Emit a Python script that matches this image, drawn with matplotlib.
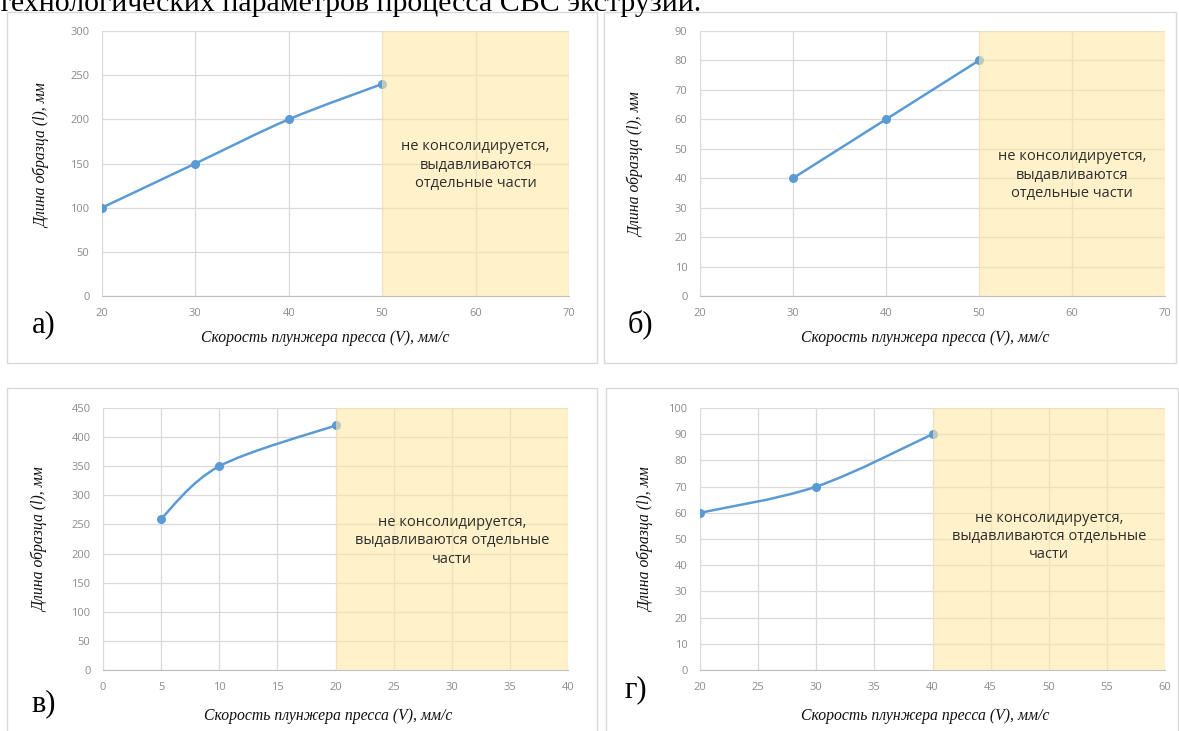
import matplotlib
matplotlib.use("Agg")
import matplotlib.pyplot as plt
import matplotlib.patches as mpatches
from matplotlib.path import Path
import numpy as np

W, H = 1179, 731

# Panel data: plunger speed (mm/s) vs sample length (mm)
speed_a = [20, 30, 40, 50]
length_a = [100, 150, 200, 240]

speed_b = [30, 40, 50]
length_b = [40, 60, 80]

speed_v = [5, 10, 20]
length_v = [260, 350, 420]

speed_g = [20, 30, 40]
length_g = [60, 70, 90]

NOTE_3 = "не консолидируется,\nвыдавливаются\nотдельные части"
NOTE_V = "не консолидируется,\nвыдавливаются отдельные\nчасти"

XLABEL = "Скорость плунжера пресса (V), мм/с"
YLABEL = "Длина образца (l), мм"

LINE_BLUE = "#5B9BD5"
GRID = "#d9d9d9"
TICK_GREY = "#8c8c8c"


def px_rect(x0, y0, x1, y1):
    """Pixel box (top-left origin) -> figure fraction rect."""
    return [x0 / W, 1 - y1 / H, (x1 - x0) / W, (y1 - y0) / H]


def smooth_path(xs, ys):
    """Catmull-Rom curve through the points as cubic Bezier segments."""
    pts = np.column_stack([xs, ys]).astype(float)
    verts = [pts[0]]
    codes = [Path.MOVETO]
    n = len(pts)
    for i in range(n - 1):
        p0 = pts[i - 1] if i > 0 else pts[i]
        p1 = pts[i]
        p2 = pts[i + 1]
        p3 = pts[i + 2] if i + 2 < n else pts[i + 1]
        c1 = p1 + (p2 - p0) / 6.0
        c2 = p2 - (p3 - p1) / 6.0
        verts += [c1, c2, p2]
        codes += [Path.CURVE4] * 3
    return Path(verts, codes)


def draw_panel(fig, rect, xs, ys, xlim, xstep, ylim, ystep, shade, note, note_xy):
    ax = fig.add_axes(rect)
    ax.set_xlim(*xlim)
    ax.set_ylim(*ylim)
    ax.set_xticks(np.arange(xlim[0], xlim[1] + 0.1, xstep))
    ax.set_yticks(np.arange(ylim[0], ylim[1] + 0.1, ystep))
    ax.grid(True, color=GRID, lw=0.9)
    ax.set_axisbelow(True)
    for side in ["top", "right", "left"]:
        ax.spines[side].set_visible(False)
    ax.spines["bottom"].set_color("#bfbfbf")
    ax.tick_params(length=0, labelsize=8, labelcolor=TICK_GREY, pad=9)
    for lab in ax.get_xticklabels() + ax.get_yticklabels():
        lab.set_family("Open Sans")

    ax.add_patch(mpatches.PathPatch(smooth_path(xs, ys), fc="none",
                                    ec=LINE_BLUE, lw=1.8, zorder=2))
    ax.plot(xs, ys, ls="none", marker="o", ms=5.5, color=LINE_BLUE, zorder=3)

    # region where the material is not consolidated
    ax.axvspan(shade[0], shade[1], color="#FFE9A8", alpha=0.6, lw=0, zorder=4)
    ax.text(note_xy[0], note_xy[1], note, ha="center", va="center",
            fontsize=10.5, family="Open Sans", color="#2e2e2e",
            linespacing=1.3, zorder=5)
    return ax


fig = plt.figure(figsize=(W / 100, H / 100), dpi=100)
fig.patch.set_facecolor("white")

# chart frames
for x0, y0, x1, y1 in [(7, 12, 597, 363), (604, 12, 1176, 363),
                       (7, 388, 597, 740), (606, 388, 1178, 740)]:
    r = px_rect(x0, y0, x1, y1)
    fig.add_artist(mpatches.Rectangle((r[0], r[1]), r[2], r[3],
                                      transform=fig.transFigure, fc="none",
                                      ec="#d9d9d9", lw=1.0))

draw_panel(fig, px_rect(102, 31, 569, 296), speed_a, length_a,
           (20, 70), 10, (0, 300), 50, (50, 70), NOTE_3, (60, 148))
draw_panel(fig, px_rect(700, 31, 1165, 296), speed_b, length_b,
           (20, 70), 10, (0, 90), 10, (50, 70), NOTE_3, (60, 41))
draw_panel(fig, px_rect(103, 408, 568, 670), speed_v, length_v,
           (0, 40), 5, (0, 450), 50, (20, 40), NOTE_V, (30, 222))
draw_panel(fig, px_rect(700, 408, 1165, 670), speed_g, length_g,
           (20, 60), 5, (0, 100), 10, (40, 60), NOTE_V, (50, 51))

serif_it = dict(family="Liberation Serif", style="italic", fontsize=11.3,
                color="#111111")

# axis titles
for cx, cy in [(325, 338), (925, 338), (328, 716), (925, 716)]:
    fig.text(cx / W, 1 - cy / H, XLABEL, ha="center", va="center", **serif_it)
for cx, cy in [(42, 156), (636, 165), (40, 540), (646, 540)]:
    fig.text(cx / W, 1 - cy / H, YLABEL, ha="center", va="center",
             rotation=90, **serif_it)

# panel letters
for cx, cy, s in [(44, 325, "а)"), (640, 324, "б)"), (44, 704, "в)"),
                  (636, 690, "г)")]:
    fig.text(cx / W, 1 - cy / H, s, ha="center", va="center",
             family="Liberation Serif", fontsize=22, color="black",
             bbox=dict(fc="white", ec="none", pad=6))

# tail of the preceding paragraph line
fig.text(-2 / W, 1 - 11 / H, "технологических параметров процесса СВС экструзии.",
         ha="left", va="baseline", family="Liberation Serif", fontsize=21.5,
         color="black")

fig.savefig("out.png", dpi=100)
